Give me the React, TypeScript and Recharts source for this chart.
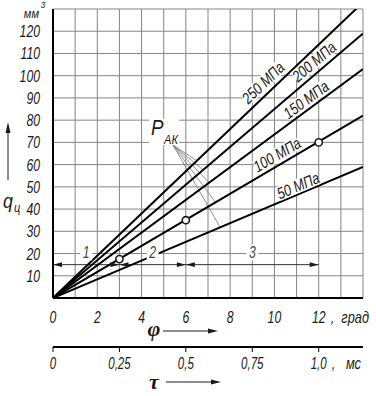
import React from 'react';
import {
  ComposedChart,
  Line,
  Scatter,
  XAxis,
  YAxis,
  CartesianGrid,
  ReferenceLine,
  ReferenceDot,
} from 'recharts';

// crank angle, град
const PHI_ENDS = [0, 14];
const PHI_GRID = [0, 1, 2, 3, 4, 5, 6, 7, 8, 9, 10, 11, 12, 13, 14];
const PHI_LABELLED = [0, 2, 4, 6, 8, 10, 12];

// cyclic feed q_ц, мм3, at the ends of each pressure line
const Q_250 = [0, 133];
const Q_200 = [0, 119];
const Q_150 = [0, 103];
const Q_100 = [0, 82];
const Q_50 = [0, 59];
const PRESSURE_NAMES = ['250 МПа', '200 МПа', '150 МПа', '100 МПа', '50 МПа'];

const Q_GRID = [0, 10, 20, 30, 40, 50, 60, 70, 80, 90, 100, 110, 120, 130];

// P_AK points on the 100 МПа line
const PAK_PHI = [3, 6, 12];
const PAK_Q = [17.5, 35, 70];

// time axis
const TAU_TICKS_MS = [0, 0.25, 0.5, 0.75, 1.0];
const TAU_LABELS = ['0', '0,25', '0,5', '0,75', '1,0'];
const DEG_PER_MS = 12;

// injection phases 1-2-3
const PHASE_NAMES = ['1', '2', '3'];
const PHASE_FROM = [0, 3, 6];
const PHASE_TO = [3, 6, 12];

const FONT = "'Liberation Sans', Arial, sans-serif";
const SERIF = "'Liberation Serif', 'DejaVu Serif', serif";
const INK = '#1a1a1a';
const GRID = '#858585';

const lineSeries = [Q_250, Q_200, Q_150, Q_100, Q_50].map((q, i) => ({
  name: PRESSURE_NAMES[i],
  data: PHI_ENDS.map((phi, j) => ({ phi, q: q[j] })),
}));

const pakData = PAK_PHI.map((phi, i) => ({ phi, q: PAK_Q[i] }));

// annotation placement (data coords)
const lineLabels = [
  { phi: 9.49, q: 96.8, angle: -43.6 },
  { phi: 11.79, q: 106.3, angle: -40.5 },
  { phi: 11.43, q: 89.2, angle: -36.4 },
  { phi: 10.12, q: 64.4, angle: -30.4 },
  { phi: 11.07, q: 50.5, angle: -22.9 },
];
const leaderStart = { x: 5.42, y: 68.8 };
const leaderEnds = [
  { x: 6.5, y: 61.7 },
  { x: 6.77, y: 57.7 },
  { x: 7.05, y: 51.9 },
  { x: 7.34, y: 43.0 },
  { x: 7.55, y: 31.8 },
];
const PHASE_LINE_Q = 15;
const PHASE_LABEL_Q = 20.5;

// narrow italic lettering, like drawing-standard type
const NText = ({ x, y, anchor = 'middle', size = 16, fill = INK, sx = 0.72, children }: any) => (
  <text
    transform={`translate(${x},${y}) scale(${sx},1)`}
    textAnchor={anchor}
    fontFamily={FONT}
    fontStyle="italic"
    fontSize={size}
    fill={fill}
  >
    {children}
  </text>
);

const PhiTick = (props: any) => {
  const { x, payload } = props;
  if (!PHI_LABELLED.includes(payload.value)) return null;
  return (
    <g>
      <NText x={x} y={323} size={17}>
        {payload.value}
      </NText>
      {payload.value === 12 && (
        <NText x={x + 12} y={323} anchor="start" size={16} sx={0.8}>
          ,&nbsp;&nbsp;град
        </NText>
      )}
    </g>
  );
};

const TauTick = (props: any) => {
  const { x, index } = props;
  const last = index === TAU_TICKS_MS.length - 1;
  return (
    <g>
      <NText x={x} y={369} size={16}>
        {TAU_LABELS[index]}
      </NText>
      {last && (
        <NText x={x + 13} y={369} anchor="start" size={16} sx={0.8}>
          ,&nbsp;&nbsp;&nbsp;мс
        </NText>
      )}
    </g>
  );
};

const QTick = (props: any) => {
  const { y, payload } = props;
  const v = payload.value;
  if (v === 0) return null;
  if (v === 130) {
    return (
      <g>
        <NText x={39} y={y + 9} anchor="end" size={13} sx={0.85}>
          мм
        </NText>
        <NText x={43} y={y - 1} size={9} sx={0.9}>
          3
        </NText>
      </g>
    );
  }
  return (
    <NText x={40} y={y + 6} anchor="end" size={17}>
      {v}
    </NText>
  );
};

const Arrow = ({ x1, x2, y }: { x1: number; x2: number; y: number }) => (
  <g>
    <line x1={x1} y1={y} x2={x2 - 8} y2={y} stroke={INK} strokeWidth={1} />
    <path d={`M${x2},${y} L${x2 - 10},${y - 2.5} L${x2 - 10},${y + 2.5} Z`} fill={INK} />
  </g>
);

const PhiTitle = (props: any) => {
  const { viewBox } = props;
  const x = viewBox.x;
  const y = viewBox.y;
  return (
    <g>
      <text x={x + 101} y={y + 38} textAnchor="middle" fontFamily={SERIF} fontStyle="italic" fontWeight="bold" fontSize={22} fill={INK}>
        φ
      </text>
      <Arrow x1={x + 110} x2={x + 165} y={y + 33} />
    </g>
  );
};

const TauTitle = (props: any) => {
  const { viewBox } = props;
  const x = viewBox.x;
  const y = viewBox.y;
  return (
    <g>
      <text x={x + 101} y={y + 42} textAnchor="middle" fontFamily={SERIF} fontStyle="italic" fontWeight="bold" fontSize={22} fill={INK}>
        τ
      </text>
      <Arrow x1={x + 113} x2={x + 168} y={y + 35} />
    </g>
  );
};

const QTitle = () => (
  <g>
    <line x1={8} y1={180} x2={8} y2={132} stroke={INK} strokeWidth={1} />
    <path d="M8,122 L5.5,133 L10.5,133 Z" fill={INK} />
    <NText x={3} y={208} anchor="start" size={21} sx={0.85}>
      q
    </NText>
    <NText x={14} y={212} anchor="start" size={13} sx={0.85}>
      ц
    </NText>
  </g>
);

const PressureLabel = ({ cx, cy, text, angle }: any) => {
  const w = text.length * 6.6;
  return (
    <g transform={`translate(${cx},${cy}) rotate(${angle})`}>
      <rect x={-w / 2 - 2} y={-7} width={w + 4} height={14} fill="#fff" />
      <NText x={0} y={5.5} size={16} sx={0.8}>
        {text}
      </NText>
    </g>
  );
};

const PhaseLabel = ({ cx, cy, text }: any) => (
  <g>
    <rect x={cx - 6} y={cy - 8} width={12} height={16} fill="#fff" />
    <NText x={cx} y={cy + 6} size={17} fill="#444">
      {text}
    </NText>
  </g>
);

const ArrowHead = ({ cx, cy, dir }: any) => (
  <path d={`M${cx},${cy} L${cx - dir * 9},${cy - 2.3} L${cx - dir * 9},${cy + 2.3} Z`} fill={INK} />
);

const PakLabel = ({ cx, cy }: any) => (
  <g>
    <rect x={cx - 8} y={cy - 10} width={30} height={26} fill="#fff" />
    <NText x={cx - 6} y={cy + 6} anchor="start" size={22} sx={0.85}>
      P
    </NText>
    <NText x={cx + 7} y={cy + 15} anchor="start" size={13} sx={0.85}>
      АК
    </NText>
  </g>
);

const Marker = (props: any) => (
  <circle cx={props.cx} cy={props.cy} r={3.6} fill="#fff" stroke={INK} strokeWidth={1.6} />
);

export default function App() {
  return (
    <div style={{ position: 'absolute', left: 0, top: 0, width: 376, height: 396, background: '#fff' }}>
      <ComposedChart width={376} height={396} margin={{ top: 9, right: 13, bottom: 0, left: 8 }}>
        <CartesianGrid stroke={GRID} strokeWidth={1} horizontalValues={Q_GRID} verticalValues={PHI_GRID} />
        <XAxis
          type="number"
          dataKey="phi"
          domain={[0, 14]}
          allowDataOverflow
          ticks={PHI_GRID}
          interval={0}
          tick={<PhiTick />}
          tickLine={false}
          axisLine={{ stroke: '#000', strokeWidth: 2 }}
          height={49}
          label={<PhiTitle />}
        />
        <XAxis
          xAxisId="tau"
          type="number"
          dataKey="phi"
          domain={[0, 14]}
          allowDataOverflow
          ticks={TAU_TICKS_MS.map((t) => t * DEG_PER_MS)}
          interval={0}
          tick={<TauTick />}
          tickSize={5}
          tickLine={{ stroke: '#000', strokeWidth: 1 }}
          axisLine={{ stroke: '#000', strokeWidth: 2 }}
          height={49}
          label={<TauTitle />}
        />
        <YAxis
          type="number"
          dataKey="q"
          domain={[0, 130]}
          allowDataOverflow
          ticks={Q_GRID}
          interval={0}
          tick={<QTick />}
          tickLine={false}
          axisLine={{ stroke: '#000', strokeWidth: 2 }}
          width={45}
          label={<QTitle />}
        />

        <ReferenceLine
          segment={[{ x: PHASE_FROM[0], y: PHASE_LINE_Q }, { x: PHASE_TO[PHASE_TO.length - 1], y: PHASE_LINE_Q }]}
          stroke="#333"
          strokeWidth={1}
        />
        {leaderEnds.map((e, i) => (
          <ReferenceLine key={`ld${i}`} segment={[leaderStart, e]} stroke="#777" strokeWidth={0.8} />
        ))}

        {lineSeries.map((s) => (
          <Line
            key={s.name}
            data={s.data}
            dataKey="q"
            type="linear"
            stroke="#000"
            strokeWidth={2}
            dot={false}
            activeDot={false}
            isAnimationActive={false}
          />
        ))}
        {/* markers share the same degree scale; bound to the τ axis so it gets a domain */}
        <Scatter xAxisId="tau" data={pakData} dataKey="q" shape={<Marker />} isAnimationActive={false} />

        {PHASE_FROM.map((from, i) => (
          <ReferenceDot key={`al${i}`} x={from} y={PHASE_LINE_Q} r={0} shape={(p: any) => <ArrowHead {...p} dir={-1} />} />
        ))}
        {PHASE_TO.map((to, i) => (
          <ReferenceDot key={`ar${i}`} x={to} y={PHASE_LINE_Q} r={0} shape={(p: any) => <ArrowHead {...p} dir={1} />} />
        ))}
        {PHASE_NAMES.map((name, i) => (
          <ReferenceDot
            key={`ph${i}`}
            x={(PHASE_FROM[i] + PHASE_TO[i]) / 2}
            y={PHASE_LABEL_Q}
            r={0}
            shape={(p: any) => <PhaseLabel {...p} text={name} />}
          />
        ))}
        {lineLabels.map((l, i) => (
          <ReferenceDot
            key={`lb${i}`}
            x={l.phi}
            y={l.q}
            r={0}
            shape={(p: any) => <PressureLabel {...p} text={PRESSURE_NAMES[i]} angle={l.angle} />}
          />
        ))}
        <ReferenceDot x={4.7} y={76} r={0} shape={(p: any) => <PakLabel {...p} />} />
      </ComposedChart>
    </div>
  );
}
